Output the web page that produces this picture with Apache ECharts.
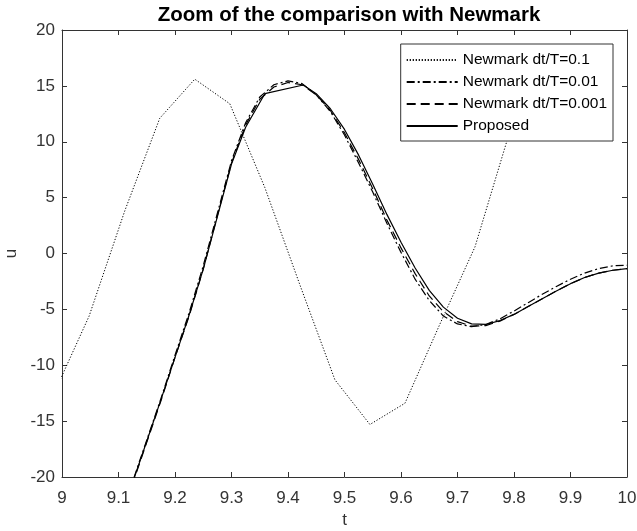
<!DOCTYPE html>
<html>
<head>
<meta charset="utf-8">
<title>Zoom of the comparison with Newmark</title>
<script src="https://cdn.jsdelivr.net/npm/echarts@6/dist/echarts.min.js"></script>
<style>
  html, body { margin: 0; padding: 0; background: #fff; }
  #chart { width: 637px; height: 531px; }
</style>
</head>
<body>
<div id="chart"></div>
<script>
// 坐标刻度
const xTicks = [9, 9.1, 9.2, 9.3, 9.4, 9.5, 9.6, 9.7, 9.8, 9.9, 10]
const yTicks = [-20, -15, -10, -5, 0, 5, 10, 15, 20]

// Newmark dt/T=0.1 (粗步长)
const tNewmark1 = [8.986, 9.048, 9.111, 9.173, 9.235, 9.297, 9.359, 9.421, 9.483, 9.545, 9.607, 9.669, 9.731, 9.793, 9.855]
const uNewmark1 = [-12.5, -5.6, 3.8, 12.1, 15.6, 13.4, 5.9, -2.8, -11.3, -15.3, -13.4, -6.3, 0.6, 11.0, 15.4]

// Newmark dt/T=0.01 和 dt/T=0.001 (细步长)
const tFine = [9.100, 9.125, 9.150, 9.175, 9.200, 9.225, 9.250, 9.275, 9.300, 9.325, 9.350, 9.375, 9.400,
  9.425, 9.450, 9.475, 9.500, 9.525, 9.550, 9.575, 9.600, 9.625, 9.650, 9.675, 9.700, 9.725, 9.750,
  9.775, 9.800, 9.825, 9.850, 9.875, 9.900, 9.925, 9.950, 9.975, 10.000]
const uNewmark01 = [-24.1, -20.4, -16.7, -13.0, -9.1, -5.3, -1.1, 3.6, 8.3, 11.7, 14.0, 15.1, 15.45,
  15.2, 14.2, 12.7, 10.6, 8.1, 5.5, 2.7, 0.1, -2.3, -4.2, -5.6, -6.3, -6.55, -6.35,
  -5.85, -5.15, -4.4, -3.65, -2.95, -2.3, -1.75, -1.35, -1.1, -1.05]
const uNewmark001 = [-24.3, -20.6, -16.9, -13.2, -9.3, -5.6, -1.4, 3.4, 8.1, 11.5, 13.8, 14.9, 15.3,
  15.1, 14.2, 12.8, 10.8, 8.4, 5.8, 3.0, 0.5, -1.8, -3.8, -5.2, -6.1, -6.5, -6.45,
  -6.05, -5.45, -4.75, -4.05, -3.35, -2.7, -2.15, -1.75, -1.5, -1.35]

// Proposed
const tProposed = [9.100, 9.125, 9.150, 9.175, 9.200, 9.225, 9.250, 9.275, 9.300, 9.325, 9.359, 9.427,
  9.450, 9.475, 9.500, 9.525, 9.550, 9.575, 9.600, 9.625, 9.650, 9.675, 9.700, 9.725, 9.750,
  9.775, 9.800, 9.825, 9.850, 9.875, 9.900, 9.925, 9.950, 9.975, 10.000]
const uProposed = [-24.2, -20.5, -16.8, -13.1, -9.3, -5.5, -1.4, 3.3, 8.0, 11.3, 14.3, 15.08,
  14.3, 12.95, 11.1, 8.8, 6.2, 3.5, 1.0, -1.3, -3.3, -4.8, -5.8, -6.3, -6.35,
  -6.0, -5.45, -4.75, -4.05, -3.35, -2.7, -2.15, -1.75, -1.5, -1.35]

const legendNames = ['Newmark dt/T=0.1', 'Newmark dt/T=0.01', 'Newmark dt/T=0.001', 'Proposed']

const axisColor = '#333'
const fontFamily = '"Liberation Sans", Arial, Helvetica, sans-serif'

const zip = (ts, us) => ts.map((t, i) => [t, us[i]])

const myChart = echarts.init(document.getElementById('chart'))

// 共用坐标轴样式
const axisBase = {
  type: 'value',
  axisLine: { show: true, onZero: false, lineStyle: { color: axisColor, width: 1 } },
  axisTick: { show: true, inside: true, length: 5, lineStyle: { color: axisColor, width: 1 } },
  splitLine: { show: false }
}

const option = {
  animation: false,
  backgroundColor: '#fff',
  title: {
    text: 'Zoom of the comparison with Newmark',
    left: 344,
    textAlign: 'center',
    top: 0,
    textStyle: { color: '#000', fontSize: 20.5, fontWeight: 'bold', fontFamily }
  },
  grid: { left: 62, right: 10, top: 30, bottom: 54, outerBoundsMode: 'none' },
  legend: {
    data: legendNames,
    orient: 'vertical',
    right: 24,
    top: 44,
    itemWidth: 51,
    itemHeight: 14,
    itemGap: 6,
    padding: [8, 6, 7, 5],
    backgroundColor: '#fff',
    borderColor: axisColor,
    borderWidth: 1,
    borderRadius: 0,
    itemStyle: { opacity: 0 },
    textStyle: { color: '#000', fontSize: 15.5, fontFamily }
  },
  xAxis: [
    {
      ...axisBase,
      position: 'bottom',
      min: xTicks[0],
      max: xTicks[xTicks.length - 1],
      interval: 0.1,
      name: 't',
      nameLocation: 'middle',
      nameGap: 30,
      nameTextStyle: { color: axisColor, fontSize: 17, fontFamily },
      axisLabel: {
        color: axisColor,
        fontSize: 17,
        fontFamily,
        margin: 13,
        formatter: v => String(+v.toFixed(1))
      }
    },
    {
      ...axisBase,
      position: 'top',
      min: xTicks[0],
      max: xTicks[xTicks.length - 1],
      interval: 0.1,
      axisLabel: { show: false }
    }
  ],
  yAxis: [
    {
      ...axisBase,
      position: 'left',
      min: yTicks[0],
      max: yTicks[yTicks.length - 1],
      interval: 5,
      name: 'u',
      nameLocation: 'middle',
      nameGap: 40,
      nameTextStyle: { color: axisColor, fontSize: 17, fontFamily },
      axisLabel: { color: axisColor, fontSize: 17, fontFamily, margin: 7 }
    },
    {
      ...axisBase,
      position: 'right',
      min: yTicks[0],
      max: yTicks[yTicks.length - 1],
      interval: 5,
      axisLabel: { show: false }
    }
  ],
  series: [
    {
      name: legendNames[0],
      type: 'line',
      symbol: 'none',
      data: zip(tNewmark1, uNewmark1),
      lineStyle: { color: '#000', width: 1, type: [1.2, 1.8] },
      z: 2
    },
    {
      name: legendNames[1],
      type: 'line',
      symbol: 'none',
      data: zip(tFine, uNewmark01),
      lineStyle: { color: '#000', width: 1.2, type: [8, 3, 2, 3] },
      z: 2
    },
    {
      name: legendNames[2],
      type: 'line',
      symbol: 'none',
      data: zip(tFine, uNewmark001),
      lineStyle: { color: '#000', width: 1.2, type: [9, 5] },
      z: 2
    },
    {
      name: legendNames[3],
      type: 'line',
      symbol: 'none',
      data: zip(tProposed, uProposed),
      lineStyle: { color: '#000', width: 1.2, type: 'solid' },
      z: 3
    }
  ]
}

myChart.setOption(option)
</script>
</body>
</html>
